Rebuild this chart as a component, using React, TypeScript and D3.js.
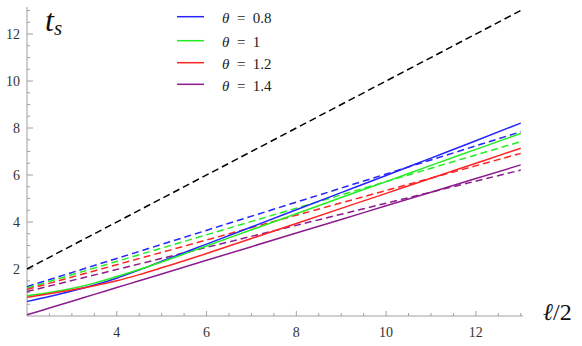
import React from "react";
import * as d3 from "d3";

// sample positions along l/2
const xs = [2, 2.5, 3, 3.5, 4, 4.5, 5, 6, 7, 8, 9, 10, 11, 12, 13];
// solid curves
const blueSolid = [0.62, 0.83, 1.06, 1.32, 1.61, 1.96, 2.33, 3.06, 3.79, 4.52, 5.25, 5.98, 6.72, 7.46, 8.21];
const greenSolid = [0.86, 1.0, 1.17, 1.4, 1.68, 1.98, 2.3, 2.98, 3.67, 4.35, 5.04, 5.72, 6.41, 7.09, 7.77];
const redSolid = [0.8, 0.95, 1.11, 1.29, 1.5, 1.76, 2.05, 2.66, 3.3, 3.94, 4.58, 5.22, 5.86, 6.5, 7.14];
const purpleSolid = [0.05, 0.34, 0.63, 0.92, 1.21, 1.5, 1.79, 2.37, 2.95, 3.53, 4.11, 4.69, 5.27, 5.85, 6.43];

// dashed straight lines, end points
const xsDashed = [2, 13];
const blueDashed = [1.25, 7.84];
const greenDashed = [1.19, 7.42];
const redDashed = [1.13, 6.92];
const purpleDashed = [1.04, 6.21];
const blackDashed = [2, 13];

const thetas = ["0.8", "1", "1.2", "1.4"];
const colors = ["#2424ff", "#22ee22", "#ff2424", "#8c1c8c"];

const xMajor = [4, 6, 8, 10, 12];
const yMajor = [2, 4, 6, 8, 10, 12];

const W = 582, H = 346;
const serif = '"Liberation Serif", "Times New Roman", Times, "DejaVu Serif", serif';

export default function App() {
  const x = d3.scaleLinear().domain([2, 13.05]).range([27, 523]);
  const y = d3.scaleLinear().domain([0, 13.15]).range([316, 7]);

  const solidLine = d3.line<number>()
    .x((d, i) => x(xs[i]))
    .y(d => y(d))
    .curve(d3.curveMonotoneX);
  const dashLine = d3.line<number>()
    .x((d, i) => x(xsDashed[i]))
    .y(d => y(d));

  const solids = [blueSolid, greenSolid, redSolid, purpleSolid];
  const dashes = [blueDashed, greenDashed, redDashed, purpleDashed];

  const xMinor = d3.range(2.5, 13.01, 0.5).filter(v => !xMajor.includes(v));
  const yMinor = d3.range(0.5, 13.01, 0.5).filter(v => !yMajor.includes(v));

  const axisColor = "#a0a0a0";
  const tf = { fontFamily: serif };

  return (
    <svg width={W} height={H} style={{ position: "absolute", left: 0, top: 0, background: "#fff", fontFamily: serif }}>
      {/* axes */}
      <g stroke={axisColor} strokeWidth={1}>
        <line x1={x(2)} x2={x(13.05)} y1={y(0)} y2={y(0)} />
        <line x1={x(2)} x2={x(2)} y1={y(0)} y2={y(13.15)} />
        {xMajor.map(v => <line key={"xM" + v} x1={x(v)} x2={x(v)} y1={y(0)} y2={y(0) - 5} />)}
        {xMinor.map(v => <line key={"xm" + v} x1={x(v)} x2={x(v)} y1={y(0)} y2={y(0) - 3} />)}
        {yMajor.map(v => <line key={"yM" + v} x1={x(2)} x2={x(2) + 6} y1={y(v)} y2={y(v)} />)}
        {yMinor.map(v => <line key={"ym" + v} x1={x(2)} x2={x(2) + 3} y1={y(v)} y2={y(v)} />)}
      </g>
      <g fontSize={14} fill="#333">
        {xMajor.map(v => (
          <text key={"xl" + v} style={tf} x={x(v)} y={y(0) + 21} textAnchor="middle">{v}</text>
        ))}
        {yMajor.map(v => (
          <text key={"yl" + v} style={tf} x={x(2) - 7} y={y(v) + 5} textAnchor="end">{v}</text>
        ))}
      </g>

      {/* curves */}
      <g fill="none" strokeWidth={1.5}>
        <path d={dashLine(blackDashed) || ""} stroke="#000" strokeDasharray="7,4" />
        {dashes.map((d, i) => (
          <path key={"d" + i} d={dashLine(d) || ""} stroke={colors[i]} strokeDasharray="7,4" />
        ))}
        {solids.map((d, i) => (
          <path key={"s" + i} d={solidLine(d) || ""} stroke={colors[i]} />
        ))}
      </g>

      {/* legend */}
      {thetas.map((t, i) => {
        const ly = [16.7, 40.7, 62.7, 84.3][i];
        return (
          <g key={"lg" + i}>
            <line x1={177} x2={204} y1={ly} y2={ly} stroke={colors[i]} strokeWidth={1.5} />
            <text x={222} y={ly + 6.5} fontSize={15} fill="#222" style={tf}>
              <tspan fontStyle="italic">θ</tspan>
              <tspan>{"\u2002=\u2002" + t}</tspan>
            </text>
          </g>
        );
      })}

      {/* axis labels */}
      <text x={45} y={31} fontSize={32} fontStyle="italic" fill="#111" style={tf}>
        t<tspan fontSize={21} dy={4}>s</tspan>
      </text>
      <text x={543} y={320} fontSize={24} fill="#111" style={tf}>
        <tspan fontStyle="italic">ℓ</tspan>/2
      </text>
    </svg>
  );
}
